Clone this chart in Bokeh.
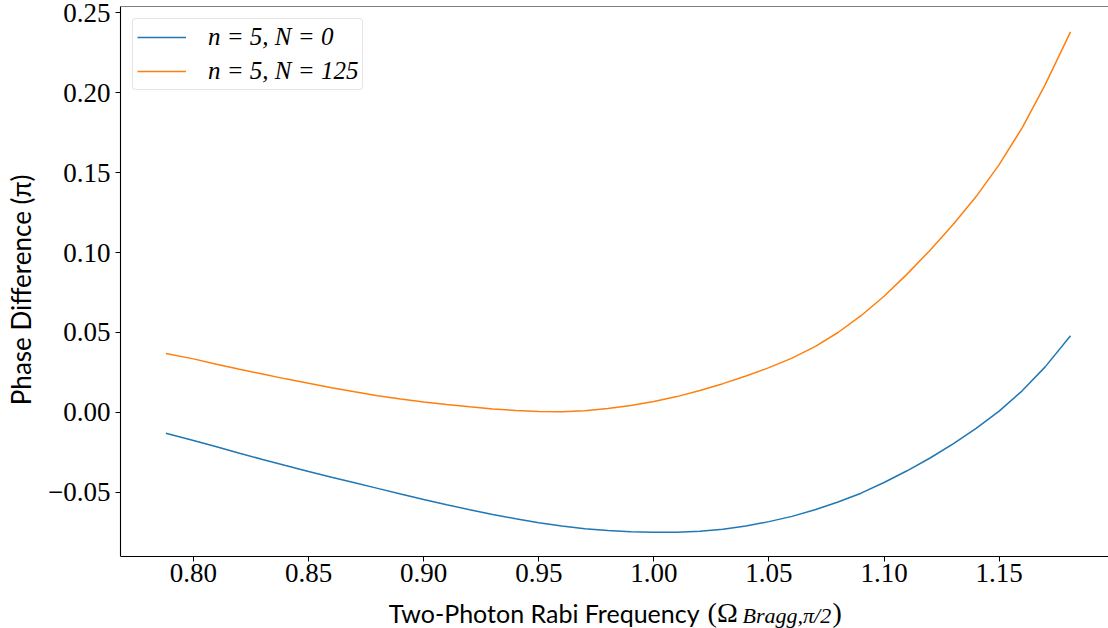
import numpy as np
from bokeh.plotting import figure
from bokeh.models import (Range1d, FixedTicker, CustomJSTickFormatter, Label, Legend,
                          LegendItem, Span)
from bokeh.embed import file_html
from bokeh.resources import INLINE

# ---- data ----
omega = [0.788, 0.80, 0.81, 0.82, 0.83, 0.84, 0.85, 0.86, 0.87, 0.88, 0.89,
         0.90, 0.91, 0.92, 0.93, 0.94, 0.95, 0.96, 0.97, 0.98, 0.99,
         1.00, 1.01, 1.02, 1.03, 1.04, 1.05, 1.06, 1.07, 1.08, 1.09,
         1.10, 1.11, 1.12, 1.13, 1.14, 1.15, 1.16, 1.17, 1.181]
phase_n5_N0 = [-0.0130, -0.0175, -0.0215, -0.0255, -0.0294, -0.0332, -0.0369,
               -0.0405, -0.0440, -0.0475, -0.0510, -0.0544, -0.0577, -0.0608,
               -0.0638, -0.0665, -0.0690, -0.0711, -0.0727, -0.0739, -0.0747,
               -0.0750, -0.0749, -0.0743, -0.0730, -0.0710, -0.0683, -0.0650,
               -0.0609, -0.0560, -0.0505, -0.0438, -0.0365, -0.0285, -0.0197,
               -0.0100, 0.0008, 0.0135, 0.0285, 0.0480]
phase_n5_N125 = [0.0368, 0.0335, 0.0302, 0.0270, 0.0240, 0.0210, 0.0182,
                 0.0155, 0.0129, 0.0105, 0.0084, 0.0065, 0.0049, 0.0035,
                 0.0022, 0.0012, 0.0006, 0.0005, 0.0011, 0.0024, 0.0043,
                 0.0068, 0.0099, 0.0137, 0.0180, 0.0228, 0.0280, 0.0340,
                 0.0412, 0.0500, 0.0605, 0.0727, 0.0865, 0.1015, 0.1175,
                 0.1350, 0.1550, 0.1780, 0.2050, 0.2380]
series_labels = ["n = 5, N = 0", "n = 5, N = 125"]
series_colors = ["#1f77b4", "#ff7f0e"]
x_ticks = [0.80, 0.85, 0.90, 0.95, 1.00, 1.05, 1.10, 1.15]
y_ticks = [-0.05, 0.00, 0.05, 0.10, 0.15, 0.20, 0.25]
x_label_parts = ["Two-Photon Rabi Frequency", "(\u03a9", "Bragg,\u03c0/2", ")"]
y_label = "Phase Difference (\u03c0)"

X0, X1 = 0.7683, 1.1975
Y0, Y1 = -0.0901, 0.2539          # visible axes box
PX_PER_Y = 1598.8
Y_CANVAS_BOTTOM = Y1 - 622 / PX_PER_Y   # frame reaches the canvas bottom

p = figure(width=1108, height=628, output_backend="svg", toolbar_location=None,
           x_range=Range1d(X0, X1), y_range=Range1d(Y_CANVAS_BOTTOM, Y1),
           min_border_left=120, min_border_right=0, min_border_top=6,
           min_border_bottom=0)
p.outline_line_color = None
p.xgrid.visible = False
p.ygrid.visible = False
p.background_fill_color = "white"
p.border_fill_color = "white"

fmt = CustomJSTickFormatter(code="""
    const s = Math.abs(tick).toFixed(2);
    return (tick < -1e-9 ? "\\u2212" : "") + s;
""")
for ax, ticks in ((p.xaxis[0], x_ticks), (p.yaxis[0], y_ticks)):
    ax.ticker = FixedTicker(ticks=ticks)
    ax.formatter = fmt
    ax.major_label_text_font = "Liberation Serif"
    ax.major_label_text_font_size = "27px"
    ax.major_label_text_color = "black"
    ax.major_tick_in = 0
    ax.major_tick_out = 5
    ax.minor_tick_in = 0
    ax.minor_tick_out = 0
    ax.major_tick_line_color = "black"
    ax.major_tick_line_width = 1
    ax.axis_line_color = "black"
    ax.axis_line_width = 1.1
    ax.major_label_standoff = 5

p.xaxis[0].fixed_location = Y0
p.xaxis[0].major_label_standoff = 3
p.yaxis[0].bounds = (Y0, Y1)
# leading spaces lift the centred label to the middle of the axes box
p.yaxis[0].axis_label = "\u2003\u2003\u2002\u2009" + y_label
p.yaxis[0].axis_label_text_font = "Lato"
p.yaxis[0].axis_label_text_font_style = "normal"
p.yaxis[0].axis_label_text_font_size = "26px"
p.yaxis[0].axis_label_text_color = "black"
p.yaxis[0].axis_label_standoff = 8

p.add_layout(Span(location=Y1, dimension="width", line_color="black", line_width=1.1))

renderers = []
for ys, c in zip([phase_n5_N0, phase_n5_N125], series_colors):
    r = p.line(omega, ys, line_color=c, line_width=1.5)
    renderers.append(r)

legend = Legend(items=[LegendItem(label=l, renderers=[r]) for l, r in zip(series_labels, renderers)],
                location="top_left")
legend.margin = 12
legend.padding = 4
legend.spacing = 6
legend.glyph_width = 49
legend.glyph_height = 24
legend.label_height = 24
legend.label_standoff = 22
legend.label_text_font = "Liberation Serif"
legend.label_text_font_style = "italic"
legend.label_text_font_size = "25px"
legend.label_text_color = "black"
legend.border_line_color = "#cccccc"
legend.border_line_width = 1
legend.background_fill_alpha = 0.8
try:
    legend.border_radius = 4
except Exception:
    pass
p.add_layout(legend)

def dx(px):
    return 1.0 + (px - 653.3) / 2302.0

def dy(py):
    return -(py - 411.7) / PX_PER_Y

label_specs = [
    (x_label_parts[0], 699, 612, "Lato", "25px", "normal", "right"),
    (x_label_parts[1], 707, 612, "Liberation Serif", "28px", "normal", "left"),
    (x_label_parts[2], 742, 615, "Liberation Serif", "22px", "italic", "left"),
    (x_label_parts[3], 832, 612, "Liberation Serif", "28px", "normal", "left"),
]
for txt, px, py, font, size, style, align in label_specs:
    p.add_layout(Label(x=dx(px), y=dy(py), text=txt, text_align=align,
                       text_baseline="alphabetic", text_font=font,
                       text_font_size=size, text_font_style=style,
                       text_color="black"))

open("out.html", "w").write(file_html(p, INLINE))
